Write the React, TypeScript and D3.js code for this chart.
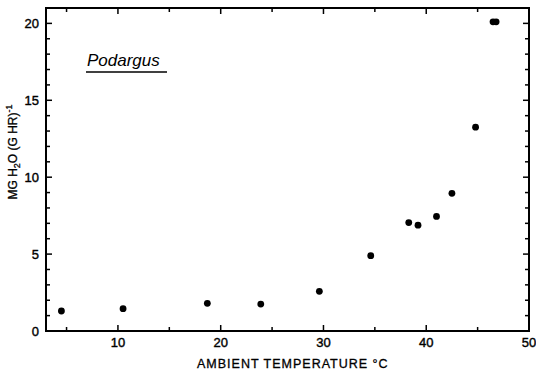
import * as d3 from "d3";
import { useRef, useEffect } from "react";

// Ambient temperature (°C) and evaporative water loss, mg H2O (g hr)^-1
const temps = [4.5, 10.5, 18.7, 23.9, 29.6, 34.6, 38.3, 39.2, 41.0, 42.5, 44.8, 46.5, 46.8];
const water = [1.3, 1.45, 1.8, 1.75, 2.58, 4.9, 7.05, 6.88, 7.45, 8.95, 13.25, 20.1, 20.1];
const xTicks = [10, 20, 30, 40, 50];
const yTicks = [0, 5, 10, 15, 20];

export default function App(): JSX.Element {
  const svgRef = useRef<SVGSVGElement>(null);

  useEffect(() => {
    if (!svgRef.current) return;
    const svg = d3.select(svgRef.current);
    svg.selectAll("*").remove();

    const left = 46, right = 529, top = 8, bottom = 331;
    const x = d3.scaleLinear().domain([3, 50]).range([left, right]);
    const y = d3.scaleLinear().domain([0, 21]).range([bottom, top]);
    const font = "Liberation Sans, Arial, sans-serif";

    // frame
    svg.append("rect")
      .attr("x", left).attr("y", top)
      .attr("width", right - left).attr("height", bottom - top)
      .attr("fill", "none").attr("stroke", "#000").attr("stroke-width", 2);

    // ticks pointing inward on every side
    const xt = d3.range(5, 50, 5);
    const yt = d3.range(1, 21, 1);
    const g = svg.append("g").attr("stroke", "#000").attr("stroke-width", 1.5);
    xt.forEach((t) => {
      const len = t % 10 === 0 ? 6 : 4;
      g.append("line").attr("x1", x(t)).attr("x2", x(t)).attr("y1", bottom).attr("y2", bottom - len);
      g.append("line").attr("x1", x(t)).attr("x2", x(t)).attr("y1", top).attr("y2", top + len);
    });
    yt.forEach((t) => {
      const len = t % 5 === 0 ? 6 : 4;
      g.append("line").attr("x1", left).attr("x2", left + len).attr("y1", y(t)).attr("y2", y(t));
      g.append("line").attr("x1", right).attr("x2", right - len).attr("y1", y(t)).attr("y2", y(t));
    });

    // tick labels
    svg.append("g")
      .selectAll("text")
      .data(xTicks)
      .join("text")
      .attr("x", (d) => x(d))
      .attr("y", bottom + 16)
      .attr("text-anchor", "middle")
      .attr("font-family", font)
      .attr("font-size", 13)
      .attr("stroke", "#000").attr("stroke-width", 0.4)
      .text((d) => d);

    svg.append("g")
      .selectAll("text")
      .data(yTicks)
      .join("text")
      .attr("x", left - 7)
      .attr("y", (d) => y(d) + 5)
      .attr("text-anchor", "end")
      .attr("font-family", font)
      .attr("font-size", 13)
      .attr("stroke", "#000").attr("stroke-width", 0.4)
      .text((d) => d);

    // axis titles
    svg.append("text")
      .attr("x", 197).attr("y", 368)
      .attr("font-family", font).attr("font-size", 12.5)
      .attr("letter-spacing", 1)
      .attr("stroke", "#000").attr("stroke-width", 0.3)
      .text("AMBIENT TEMPERATURE °C");

    const yl = svg.append("text")
      .attr("transform", "translate(17, 152) rotate(-90)")
      .attr("text-anchor", "middle")
      .attr("font-family", font).attr("font-size", 12)
      .attr("stroke", "#000").attr("stroke-width", 0.3);
    yl.append("tspan").text("MG H");
    yl.append("tspan").attr("font-size", 9).attr("dy", 3).text("2");
    yl.append("tspan").attr("dy", -3).text("O (G HR)");
    yl.append("tspan").attr("font-size", 9).attr("dy", -5).text("-1");

    // species label
    svg.append("text")
      .attr("x", 87).attr("y", 66)
      .attr("font-family", font).attr("font-size", 17).attr("font-style", "italic")
      .text("Podargus");
    svg.append("line")
      .attr("x1", 86).attr("x2", 167).attr("y1", 72).attr("y2", 72)
      .attr("stroke", "#000").attr("stroke-width", 1.5);

    // points
    svg.append("g")
      .selectAll("circle")
      .data(temps)
      .join("circle")
      .attr("cx", (d) => x(d))
      .attr("cy", (_d, i) => y(water[i]))
      .attr("r", 3.4)
      .attr("fill", "#000");
  }, []);

  return (
    <svg
      ref={svgRef}
      width={536}
      height={375}
      style={{ position: "absolute", left: 0, top: 0, background: "#fff" }}
    />
  );
}
